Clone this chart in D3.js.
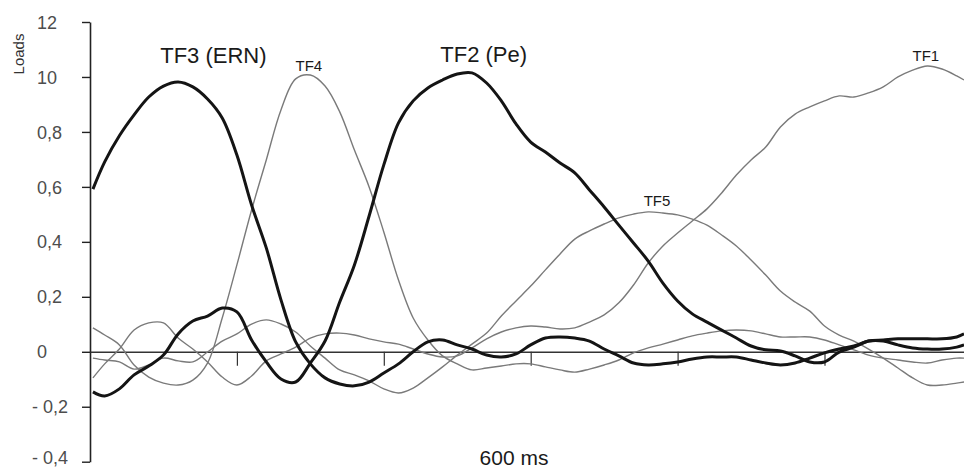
<!DOCTYPE html>
<html>
<head>
<meta charset="utf-8">
<script src="https://cdn.jsdelivr.net/npm/d3@7"></script>
<style>
body { margin: 0; background: #fff; }
svg text { font-family: "Liberation Sans", Arial, sans-serif; }
</style>
</head>
<body>
<svg id="chart" width="964" height="469"></svg>
<script>
//Sample times in ms
var times = [2, 10, 20, 30, 40, 50, 60, 70, 80, 90, 100, 110, 120, 130, 140, 150, 160, 170, 180, 190,
    200, 210, 220, 230, 240, 250, 260, 270, 280, 290, 300, 310, 320, 330, 340, 350, 360, 370, 380, 390,
    400, 410, 420, 430, 440, 450, 460, 470, 480, 490, 500, 510, 520, 530, 540, 550, 560, 570, 580, 590, 595];

//Loads of every factor, one value per sample time
var tf3 = [0.592, 0.691, 0.786, 0.862, 0.927, 0.967, 0.982, 0.964, 0.92, 0.851, 0.716, 0.534, 0.378, 0.189, 0.036, -0.044, -0.095, -0.117, -0.124, -0.11,
    -0.077, -0.044, 0.0, 0.036, 0.043, 0.025, 0.01, -0.012, -0.019, -0.008, 0.025, 0.05, 0.054, 0.05, 0.039, 0.01, -0.015, -0.041, -0.048, -0.044,
    -0.037, -0.026, -0.019, -0.019, -0.019, -0.03, -0.041, -0.048, -0.041, -0.023, -0.004, 0.01, 0.021, 0.039, 0.039, 0.025, 0.014, 0.01, 0.01, 0.017, 0.025];
var tf2 = [-0.146, -0.161, -0.135, -0.084, -0.052, -0.012, 0.065, 0.112, 0.13, 0.159, 0.145, 0.043, -0.037, -0.099, -0.11, -0.041, 0.039, 0.181, 0.316, 0.494,
    0.68, 0.833, 0.913, 0.96, 0.989, 1.011, 1.015, 0.978, 0.913, 0.829, 0.763, 0.727, 0.687, 0.651, 0.589, 0.527, 0.461, 0.396, 0.33, 0.25,
    0.185, 0.138, 0.108, 0.079, 0.05, 0.021, 0.007, 0.003, -0.015, -0.037, -0.037, -0.001, 0.017, 0.039, 0.043, 0.047, 0.047, 0.047, 0.047, 0.054, 0.065];
var tf4 = [0.087, 0.061, 0.025, -0.048, -0.092, -0.114, -0.121, -0.103, -0.041, 0.123, 0.316, 0.516, 0.698, 0.88, 0.993, 1.007, 0.967, 0.873, 0.734, 0.6,
    0.436, 0.261, 0.123, 0.043, -0.015, -0.044, -0.066, -0.059, -0.052, -0.044, -0.044, -0.055, -0.066, -0.074, -0.063, -0.048, -0.03, -0.004, 0.014, 0.028,
    0.043, 0.058, 0.068, 0.076, 0.079, 0.076, 0.065, 0.054, 0.054, 0.054, 0.043, 0.025, 0.007, -0.012, -0.023, -0.03, -0.037, -0.041, -0.03, -0.023, -0.023];
var tf1 = [-0.095, -0.044, 0.01, 0.079, 0.105, 0.105, 0.05, 0.01, -0.037, -0.092, -0.121, -0.088, -0.033, -0.008, 0.017, 0.05, 0.065, 0.068, 0.061, 0.047,
    0.036, 0.028, 0.01, -0.008, -0.019, -0.015, 0.014, 0.047, 0.072, 0.087, 0.094, 0.09, 0.083, 0.087, 0.108, 0.134, 0.178, 0.243, 0.323, 0.385,
    0.432, 0.476, 0.52, 0.578, 0.643, 0.698, 0.745, 0.818, 0.865, 0.891, 0.913, 0.931, 0.927, 0.942, 0.964, 1.0, 1.025, 1.04, 1.029, 1.004, 0.989];
var tf5 = [-0.023, -0.03, -0.037, -0.063, -0.048, -0.023, -0.033, -0.037, -0.001, 0.039, 0.065, 0.101, 0.116, 0.101, 0.072, 0.021, -0.023, -0.066, -0.084, -0.106,
    -0.135, -0.15, -0.132, -0.095, -0.055, -0.012, 0.028, 0.068, 0.13, 0.185, 0.239, 0.298, 0.356, 0.41, 0.44, 0.465, 0.487, 0.501, 0.509, 0.505,
    0.498, 0.483, 0.461, 0.425, 0.385, 0.334, 0.279, 0.221, 0.181, 0.148, 0.094, 0.061, 0.039, 0.01, -0.023, -0.059, -0.095, -0.121, -0.121, -0.114, -0.11];

//Axis ticks
var yTicks = [1.2, 1.0, 0.8, 0.6, 0.4, 0.2, 0, -0.2, -0.4];
var yTickLabels = ["12", "10", "0,8", "0,6", "0,4", "0,2", "0", "- 0,2", "- 0,4"];
var xTicks = [100, 200, 300, 400, 500];

//Factor names and where their names sit (ms, load)
var labelNames = ["TF3 (ERN)", "TF4", "TF2 (Pe)", "TF1", "TF5"];
var labelTimes = [84, 149, 268, 569, 386];
var labelLoads = [1.051, 1.022, 1.053, 1.058, 0.531];

var svgWidth = 964, svgHeight = 469;
var svg = d3.select("#chart");

var x = d3.scaleLinear().domain([0, 600]).range([90, 971.4]);
var y = d3.scaleLinear().domain([-0.4, 1.2]).range([461.7, 22]);

//Build series from the arrays
function makeSeries(values){
    return times.map(function(t, i){ return {t: t, v: values[i]}; });
}
var thinSeries = [tf1, tf4, tf5];
var thickSeries = [tf2, tf3];

//Y axis with left aligned labels
var yAxis = svg.append("g")
    .attr("transform", "translate(" + x(0) + ",0)")
    .call(d3.axisLeft(y).tickValues(yTicks).tickSize(8).tickSizeOuter(0)
        .tickFormat(function(d, i){ return yTickLabels[i]; }));
yAxis.select(".domain").attr("stroke", "#222").attr("stroke-width", 1.6);
yAxis.selectAll(".tick line").attr("stroke", "#222").attr("stroke-width", 1.4);
yAxis.selectAll(".tick text")
    .attr("text-anchor", "start")
    .attr("x", function(d, i){ return yTickLabels[i].charAt(0) == "-" ? -58 : -53; })
    //lowest label is nudged up so it stays inside the picture
    .attr("dy", function(d, i){ return i == yTicks.length - 1 ? "0.12em" : "0.34em"; })
    .attr("fill", "#4d4d4d")
    .style("font-size", "18px")
    .style("font-family", "'Liberation Sans', Arial, sans-serif");

//Zero line with ticks hanging below
var xAxis = svg.append("g")
    .attr("transform", "translate(0," + y(0) + ")")
    .call(d3.axisBottom(x).tickValues(xTicks).tickSize(14).tickSizeOuter(0).tickFormat(""));
xAxis.select(".domain").attr("stroke", "#333").attr("stroke-width", 1.3);
xAxis.selectAll(".tick line").attr("stroke", "#333").attr("stroke-width", 1.2);

var line = d3.line()
    .x(function(d){ return x(d.t); })
    .y(function(d){ return y(d.v); })
    .curve(d3.curveCatmullRom.alpha(0.5));

//Thin factors first, thick on top
svg.selectAll(".thin")
    .data(thinSeries)
    .enter()
    .append("path")
    .attr("class", "thin")
    .attr("d", function(d){ return line(makeSeries(d)); })
    .attr("fill", "none")
    .attr("stroke", "#7a7a7a")
    .attr("stroke-width", 1.4);

svg.selectAll(".thick")
    .data(thickSeries)
    .enter()
    .append("path")
    .attr("class", "thick")
    .attr("d", function(d){ return line(makeSeries(d)); })
    .attr("fill", "none")
    .attr("stroke", "#141414")
    .attr("stroke-width", 3);

//Factor names
svg.selectAll(".tfLabel")
    .data(labelNames)
    .enter()
    .append("text")
    .attr("class", "tfLabel")
    .attr("x", function(d, i){ return x(labelTimes[i]); })
    .attr("y", function(d, i){ return y(labelLoads[i]); })
    .attr("text-anchor", "middle")
    .attr("fill", "#1a1a1a")
    .style("font-size", function(d){ return d.length > 3 ? "22px" : "15px"; })
    .text(function(d){ return d; });

//Axis titles
svg.append("text")
    .attr("transform", "translate(24,54) rotate(-90)")
    .attr("text-anchor", "middle")
    .attr("fill", "#333")
    .style("font-size", "15px")
    .text("Loads");

svg.append("text")
    .attr("x", 514)
    .attr("y", 465)
    .attr("text-anchor", "middle")
    .attr("fill", "#1a1a1a")
    .style("font-size", "21px")
    .text("600 ms");
</script>
</body>
</html>
